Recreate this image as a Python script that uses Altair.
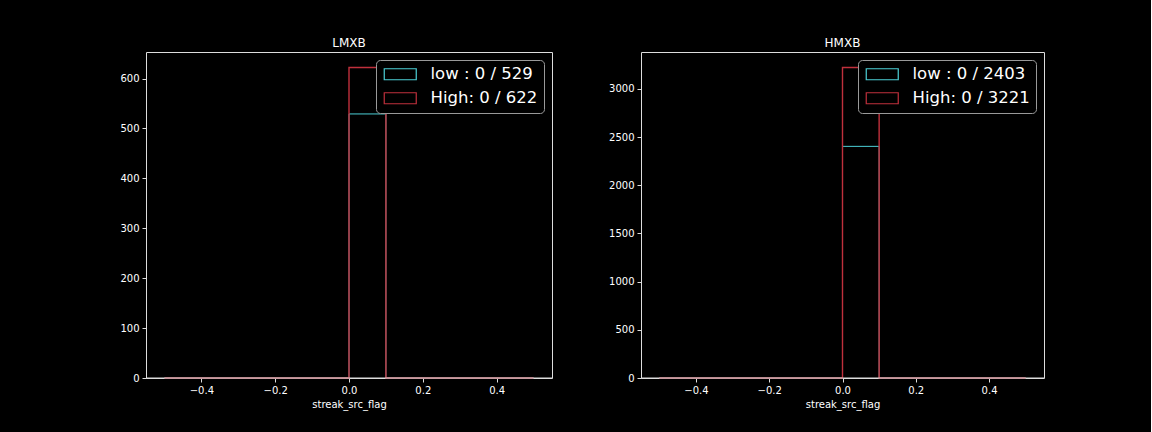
import altair as alt
import pandas as pd

# bin edges shared by both panels (matplotlib hist of all-zero data)
bin_edges = [-0.5, -0.4, -0.3, -0.2, -0.1, 0.0, 0.1, 0.2, 0.3, 0.4, 0.5]

panels = ["LMXB", "HMXB"]
low_counts = {
    "LMXB": [0, 0, 0, 0, 0, 529, 0, 0, 0, 0],
    "HMXB": [0, 0, 0, 0, 0, 2403, 0, 0, 0, 0],
}
high_counts = {
    "LMXB": [0, 0, 0, 0, 0, 622, 0, 0, 0, 0],
    "HMXB": [0, 0, 0, 0, 0, 3221, 0, 0, 0, 0],
}
low_labels = {"LMXB": "low : 0 / 529", "HMXB": "low : 0 / 2403"}
high_labels = {"LMXB": "High: 0 / 622", "HMXB": "High: 0 / 3221"}
y_ticks = {
    "LMXB": [0, 100, 200, 300, 400, 500, 600],
    "HMXB": [0, 500, 1000, 1500, 2000, 2500, 3000],
}
x_ticks = [-0.4, -0.2, 0.0, 0.2, 0.4]

CYAN = "#4ccfd6"
RED = "#c0303c"
FG = "#ffffff"
FRAME = "#dddddd"


def step_outline(edges, counts, label):
    rows = []
    k = 0
    rows.append({"x": edges[0], "y": 0, "o": k, "s": label}); k += 1
    for i, c in enumerate(counts):
        rows.append({"x": edges[i], "y": c, "o": k, "s": label}); k += 1
        rows.append({"x": edges[i + 1], "y": c, "o": k, "s": label}); k += 1
    rows.append({"x": edges[-1], "y": 0, "o": k, "s": label}); k += 1
    return pd.DataFrame(rows)


def make_panel(name, w):
    lo = step_outline(bin_edges, low_counts[name], low_labels[name])
    hi = step_outline(bin_edges, high_counts[name], high_labels[name])
    ymax = max(max(low_counts[name]), max(high_counts[name])) * 1.05
    color = alt.Color(
        "s:N",
        scale=alt.Scale(domain=[low_labels[name], high_labels[name]], range=[CYAN, RED]),
        legend=alt.Legend(
            title=None,
            orient="top-right",
            offset=8,
            fillColor="black",
            strokeColor="#999999",
            cornerRadius=4,
            padding=6,
            labelFontSize=16.5,
            labelColor=FG,
            labelFont="DejaVu Sans",
            labelOffset=32,
            symbolType="M-1,-0.917H4.333V0.917H-1Z",
            symbolSize=144,
            symbolStrokeWidth=1.2,
            symbolFillColor="transparent",
            rowPadding=7,
        ),
    )
    x = alt.X(
        "x:Q",
        scale=alt.Scale(domain=[-0.55, 0.55], nice=False, zero=False),
        axis=alt.Axis(values=x_ticks, format=".1f", title="streak_src_flag"),
    )
    y = alt.Y(
        "y:Q",
        scale=alt.Scale(domain=[0, ymax], nice=False),
        axis=alt.Axis(values=y_ticks[name], format="d", title=None),
    )
    l1 = alt.Chart(lo).mark_line(strokeWidth=1).encode(x=x, y=y, color=color, order="o:Q")
    l2 = alt.Chart(hi).mark_line(strokeWidth=1.4).encode(x=x, y=y, color=color, order="o:Q")
    base = alt.Chart(pd.DataFrame({"y": [0]})).mark_rule(color=FRAME, strokeWidth=1).encode(
        y=alt.Y("y:Q", scale=alt.Scale(domain=[0, ymax], nice=False)),
        x=alt.value(0), x2=alt.value(w),
    )
    return alt.layer(l1, l2, base).properties(
        width=w, height=326,
        title=alt.TitleParams(name, fontSize=12, fontWeight="normal", color=FG,
                              font="DejaVu Sans", offset=2),
    )


chart = (
    alt.hconcat(make_panel("LMXB", 406), make_panel("HMXB", 403), spacing=55)
    .resolve_scale(color="independent")
    .properties(padding={"left": 119, "top": 36, "right": 106, "bottom": 22})
    .configure(background="black", font="DejaVu Sans")
    .configure_view(stroke=FRAME, strokeWidth=1)
    .configure_axis(
        grid=False,
        domain=False,
        tickColor=FRAME,
        tickSize=4,
        labelColor=FG,
        labelFontSize=10,
        labelFont="DejaVu Sans",
        titleColor=FG,
        titleFontSize=10,
        titleFont="DejaVu Sans",
        titleFontWeight="normal",
        labelPadding=3,
        titlePadding=4,
    )
)

chart.save("out.html", embed_options={"renderer": "svg", "actions": False})
